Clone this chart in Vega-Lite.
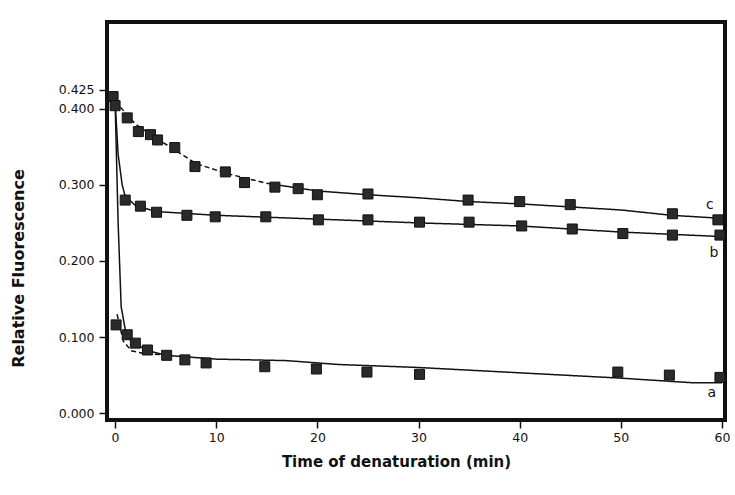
{
  "$schema": "https://vega.github.io/schema/vega-lite/v6.json",
  "width": 618,
  "height": 398,
  "autosize": {"type": "none"},
  "padding": {"left": 107, "top": 22, "right": 10, "bottom": 75},
  "background": "white",
  "config": {
    "view": {"stroke": "#111", "strokeWidth": 4},
    "axis": {"grid": false, "domain": false, "labelFont": "DejaVu Sans", "labelFontSize": 12.5, "labelColor": "#111", "tickColor": "#111", "tickWidth": 1.5, "tickSize": 8, "titleFont": "DejaVu Sans", "titleFontWeight": "bold", "titleColor": "#111"}
  },
  "datasets": {
    "pts": [
      {"t": -0.2, "f": 0.416, "curve": "c"},
      {"t": 1.2, "f": 0.388, "curve": "c"},
      {"t": 2.3, "f": 0.37, "curve": "c"},
      {"t": 3.5, "f": 0.366, "curve": "c"},
      {"t": 4.2, "f": 0.359, "curve": "c"},
      {"t": 5.9, "f": 0.349, "curve": "c"},
      {"t": 7.9, "f": 0.324, "curve": "c"},
      {"t": 10.9, "f": 0.317, "curve": "c"},
      {"t": 12.8, "f": 0.303, "curve": "c"},
      {"t": 15.8, "f": 0.297, "curve": "c"},
      {"t": 18.1, "f": 0.295, "curve": "c"},
      {"t": 20, "f": 0.287, "curve": "c"},
      {"t": 25, "f": 0.288, "curve": "c"},
      {"t": 34.9, "f": 0.28, "curve": "c"},
      {"t": 40, "f": 0.278, "curve": "c"},
      {"t": 45, "f": 0.274, "curve": "c"},
      {"t": 55.1, "f": 0.262, "curve": "c"},
      {"t": 59.6, "f": 0.254, "curve": "c"},
      {"t": 0, "f": 0.404, "curve": "b"},
      {"t": 1, "f": 0.28, "curve": "b"},
      {"t": 2.5, "f": 0.272, "curve": "b"},
      {"t": 4.1, "f": 0.264, "curve": "b"},
      {"t": 7.1, "f": 0.26, "curve": "b"},
      {"t": 9.9, "f": 0.258, "curve": "b"},
      {"t": 14.9, "f": 0.258, "curve": "b"},
      {"t": 20.1, "f": 0.254, "curve": "b"},
      {"t": 25, "f": 0.254, "curve": "b"},
      {"t": 30.1, "f": 0.251, "curve": "b"},
      {"t": 35, "f": 0.251, "curve": "b"},
      {"t": 40.2, "f": 0.246, "curve": "b"},
      {"t": 45.2, "f": 0.242, "curve": "b"},
      {"t": 50.2, "f": 0.236, "curve": "b"},
      {"t": 55.1, "f": 0.234, "curve": "b"},
      {"t": 59.8, "f": 0.234, "curve": "b"},
      {"t": 0.1, "f": 0.116, "curve": "a"},
      {"t": 1.2, "f": 0.103, "curve": "a"},
      {"t": 2, "f": 0.092, "curve": "a"},
      {"t": 3.2, "f": 0.083, "curve": "a"},
      {"t": 5.1, "f": 0.076, "curve": "a"},
      {"t": 6.9, "f": 0.07, "curve": "a"},
      {"t": 9, "f": 0.066, "curve": "a"},
      {"t": 14.8, "f": 0.061, "curve": "a"},
      {"t": 19.9, "f": 0.058, "curve": "a"},
      {"t": 24.9, "f": 0.054, "curve": "a"},
      {"t": 30.1, "f": 0.051, "curve": "a"},
      {"t": 49.7, "f": 0.054, "curve": "a"},
      {"t": 54.8, "f": 0.05, "curve": "a"},
      {"t": 59.8, "f": 0.047, "curve": "a"}
    ],
    "fit": [
      {"t": 0, "f": 0.41, "curve": "a", "style": "solid"},
      {"t": 0.3, "f": 0.25, "curve": "a", "style": "solid"},
      {"t": 0.6, "f": 0.14, "curve": "a", "style": "solid"},
      {"t": 1, "f": 0.11, "curve": "a", "style": "solid"},
      {"t": 2, "f": 0.092, "curve": "a", "style": "solid"},
      {"t": 3, "f": 0.083, "curve": "a", "style": "solid"},
      {"t": 5, "f": 0.076, "curve": "a", "style": "solid"},
      {"t": 10, "f": 0.071, "curve": "a", "style": "solid"},
      {"t": 17, "f": 0.069, "curve": "a", "style": "solid"},
      {"t": 22, "f": 0.064, "curve": "a", "style": "solid"},
      {"t": 30, "f": 0.06, "curve": "a", "style": "solid"},
      {"t": 40, "f": 0.053, "curve": "a", "style": "solid"},
      {"t": 50, "f": 0.046, "curve": "a", "style": "solid"},
      {"t": 57, "f": 0.04, "curve": "a", "style": "solid"},
      {"t": 60, "f": 0.04, "curve": "a", "style": "solid"},
      {"t": 0.2, "f": 0.13, "curve": "a2", "style": "dash"},
      {"t": 0.8, "f": 0.095, "curve": "a2", "style": "dash"},
      {"t": 1.6, "f": 0.082, "curve": "a2", "style": "dash"},
      {"t": 3, "f": 0.078, "curve": "a2", "style": "dash"},
      {"t": 4.5, "f": 0.077, "curve": "a2", "style": "dash"},
      {"t": 0, "f": 0.41, "curve": "b", "style": "solid"},
      {"t": 0.3, "f": 0.34, "curve": "b", "style": "solid"},
      {"t": 0.7, "f": 0.3, "curve": "b", "style": "solid"},
      {"t": 1, "f": 0.285, "curve": "b", "style": "solid"},
      {"t": 2, "f": 0.273, "curve": "b", "style": "solid"},
      {"t": 4, "f": 0.265, "curve": "b", "style": "solid"},
      {"t": 10, "f": 0.26, "curve": "b", "style": "solid"},
      {"t": 20, "f": 0.255, "curve": "b", "style": "solid"},
      {"t": 30, "f": 0.25, "curve": "b", "style": "solid"},
      {"t": 40, "f": 0.246, "curve": "b", "style": "solid"},
      {"t": 50, "f": 0.238, "curve": "b", "style": "solid"},
      {"t": 60, "f": 0.232, "curve": "b", "style": "solid"},
      {"t": 0, "f": 0.41, "curve": "c", "style": "dash"},
      {"t": 1, "f": 0.395, "curve": "c", "style": "dash"},
      {"t": 2, "f": 0.38, "curve": "c", "style": "dash"},
      {"t": 4, "f": 0.362, "curve": "c", "style": "dash"},
      {"t": 6, "f": 0.345, "curve": "c", "style": "dash"},
      {"t": 8, "f": 0.328, "curve": "c", "style": "dash"},
      {"t": 11, "f": 0.315, "curve": "c", "style": "dash"},
      {"t": 15, "f": 0.302, "curve": "c", "style": "dash"},
      {"t": 15, "f": 0.302, "curve": "c2", "style": "solid"},
      {"t": 20, "f": 0.292, "curve": "c2", "style": "solid"},
      {"t": 25, "f": 0.287, "curve": "c2", "style": "solid"},
      {"t": 30, "f": 0.283, "curve": "c2", "style": "solid"},
      {"t": 35, "f": 0.278, "curve": "c2", "style": "solid"},
      {"t": 40, "f": 0.275, "curve": "c2", "style": "solid"},
      {"t": 45, "f": 0.271, "curve": "c2", "style": "solid"},
      {"t": 50, "f": 0.267, "curve": "c2", "style": "solid"},
      {"t": 55, "f": 0.26, "curve": "c2", "style": "solid"},
      {"t": 60, "f": 0.256, "curve": "c2", "style": "solid"}
    ],
    "labels": [
      {"t": 58.8, "f": 0.274, "txt": "c"},
      {"t": 59.2, "f": 0.21, "txt": "b"},
      {"t": 59.0, "f": 0.026, "txt": "a"}
    ]
  },
  "layer": [
    {
      "data": {"name": "fit"},
      "mark": {"type": "line", "color": "#111", "strokeWidth": 1.5},
      "encoding": {
        "x": {"field": "t", "type": "quantitative", "scale": {"domain": [-0.8, 60.3], "nice": false, "zero": false},
              "axis": {"values": [0, 10, 20, 30, 40, 50, 60], "title": "Time of denaturation (min)", "titleFontSize": 15, "titleX": 289, "titleY": 34, "titleBaseline": "top", "labelPadding": 3}},
        "y": {"field": "f", "type": "quantitative", "scale": {"domain": [-0.009, 0.514], "nice": false, "zero": false},
              "axis": {"values": [0, 0.1, 0.2, 0.3, 0.4, 0.425], "format": ".3f", "title": "Relative Fluorescence", "titleFontSize": 16, "titleX": -89, "titleY": 246, "titleBaseline": "middle", "labelPadding": 5}},
        "detail": {"field": "curve"},
        "order": {"field": "t", "type": "quantitative"},
        "strokeDash": {"field": "style", "type": "nominal", "scale": {"domain": ["solid", "dash"], "range": [[1, 0], [5, 3]]}, "legend": null}
      }
    },
    {
      "data": {"name": "pts"},
      "mark": {"type": "point", "shape": "square", "filled": true, "size": 100, "color": "#2a2a2a", "opacity": 1, "stroke": "#111", "strokeWidth": 1},
      "encoding": {
        "x": {"field": "t", "type": "quantitative"},
        "y": {"field": "f", "type": "quantitative"}
      }
    },
    {
      "data": {"name": "labels"},
      "mark": {"type": "text", "font": "DejaVu Sans", "fontSize": 14, "color": "#111"},
      "encoding": {
        "x": {"field": "t", "type": "quantitative"},
        "y": {"field": "f", "type": "quantitative"},
        "text": {"field": "txt"}
      }
    }
  ]
}
